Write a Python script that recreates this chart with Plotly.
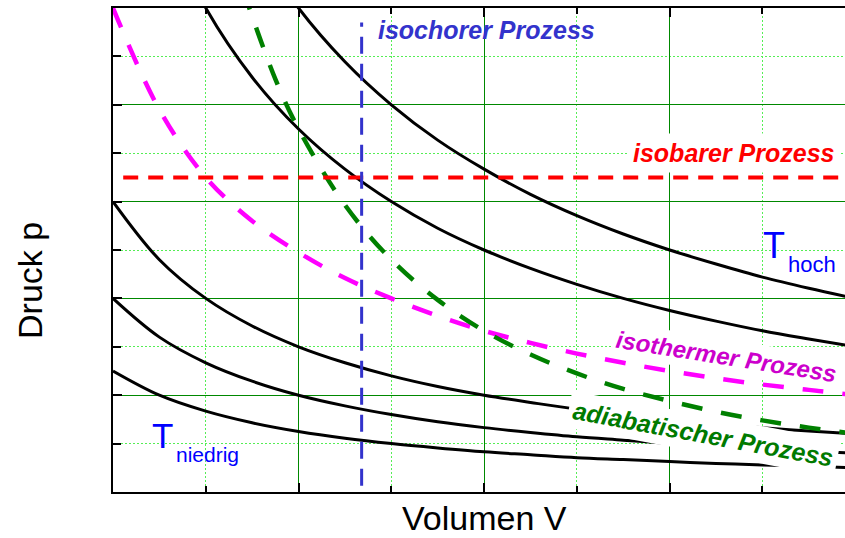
import plotly.graph_objects as go

# ---- data ----
V_iso = [0, 0.5, 1, 1.5, 2, 2.5, 3, 3.5, 4, 4.5, 5, 5.5, 6, 6.5, 7, 7.5, 8]
p_T1 = [20, 16, 13.33, 11.43, 10, 8.89, 8, 7.27, 6.67, 6.15, 5.71, 5.33, 5, 4.71, 4.44, 4.21, 4.0]
p_T2 = [15, 12, 10, 8.57, 7.5, 6.67, 6, 5.45, 5, 4.62, 4.29, 4, 3.75, 3.53, 3.33, 3.16, 3.0]
p_T3 = [6, 4.8, 4, 3.43, 3, 2.67, 2.4, 2.18, 2, 1.85, 1.71, 1.6, 1.5, 1.41, 1.33, 1.26, 1.2]
p_T4 = [4, 3.2, 2.67, 2.29, 2, 1.78, 1.6, 1.45, 1.33, 1.23, 1.14, 1.07, 1.0, 0.94, 0.89, 0.84, 0.8]
p_T5 = [2.5, 2, 1.67, 1.43, 1.25, 1.11, 1, 0.91, 0.83, 0.77, 0.71, 0.67, 0.63, 0.59, 0.56, 0.53, 0.5]

p_isotherm = [10, 7.9, 6.5, 5.6, 4.95, 4.42, 4.0, 3.64, 3.33, 3.08, 2.86, 2.67, 2.5, 2.35, 2.22, 2.11, 2.0]

V_adiab = [1.4, 1.75, 2.0, 2.5, 3.0, 3.5, 4.0, 4.5, 5.0, 5.5, 6.0, 6.5, 7.0, 7.5, 8.0]
p_adiab = [10.38, 8.53, 7.50, 5.93, 4.80, 3.97, 3.33, 2.84, 2.45, 2.13, 1.88, 1.66, 1.48, 1.33, 1.20]

V_isochor = [2.68, 2.68]
p_isochor = [0.13, 9.70]

V_isobar = [0.11, 8.0]
p_isobar = [6.5, 6.5]

labels = {
    "isochor": "isochorer Prozess",
    "isobar": "isobarer Prozess",
    "isotherm": "isothermer Prozess",
    "adiabat": "adiabatischer Prozess",
}
x_title = "Volumen V"
y_title = "Druck p"

FONT = "Liberation Sans, Arial, sans-serif"

fig = go.Figure()

for p in [p_T1, p_T2, p_T3, p_T4, p_T5]:
    fig.add_trace(go.Scatter(x=V_iso, y=p, mode="lines", line=dict(color="black", width=3, shape="spline"),
                             showlegend=False, hoverinfo="skip"))

fig.add_trace(go.Scatter(x=V_iso, y=p_isotherm, mode="lines",
                         line=dict(color="#FF00FF", width=4.5, dash="21px,19px", shape="spline"),
                         showlegend=False, hoverinfo="skip"))
fig.add_trace(go.Scatter(x=V_adiab, y=p_adiab, mode="lines",
                         line=dict(color="#008000", width=4.5, dash="21px,19px", shape="spline"),
                         showlegend=False, hoverinfo="skip"))
fig.add_trace(go.Scatter(x=V_isobar, y=p_isobar, mode="lines",
                         line=dict(color="#FF0000", width=4, dash="15px,10px"),
                         showlegend=False, hoverinfo="skip"))
fig.add_trace(go.Scatter(x=V_isochor, y=p_isochor, mode="lines",
                         line=dict(color="#3333CC", width=3, dash="17px,10px"),
                         showlegend=False, hoverinfo="skip"))

bold_it = dict(family=FONT, size=25, weight="bold", style="italic")

ann = [
    dict(x=4.025, y=9.555, text=labels["isochor"], font=dict(**bold_it, color="#3333CC"),
         showarrow=False),
    dict(x=6.69, y=7.0, text=labels["isobar"], font=dict(**bold_it, color="#FF0000"),
         showarrow=False, bgcolor="white", borderpad=5),
    dict(x=6.61, y=2.80, text=labels["isotherm"],
         font=dict(family=FONT, size=24, weight="bold", style="italic", color="#CC00CC"),
         showarrow=False, bgcolor="white", borderpad=3, textangle=9),
    dict(x=6.36, y=1.19, text=labels["adiabat"], font=dict(**bold_it, color="#007A00"),
         showarrow=False, bgcolor="white", borderpad=4, textangle=10.5),
    dict(x=7.127, y=5.10, text="T", font=dict(family=FONT, size=36, color="#0000FF"), showarrow=False),
    dict(x=7.256, y=4.71, text="hoch", font=dict(family=FONT, size=22, color="#0000FF"),
         showarrow=False, xanchor="left"),
    dict(x=0.534, y=1.175, text="T", font=dict(family=FONT, size=35, color="#0000FF"), showarrow=False),
    dict(x=0.658, y=0.773, text="niedrig", font=dict(family=FONT, size=21, color="#0000FF"),
         showarrow=False, xanchor="left"),
    dict(xref="paper", yref="paper", x=0.5075, y=-0.0537, text=x_title,
         font=dict(family=FONT, size=34, color="black"), showarrow=False,
         xanchor="center", yanchor="middle"),
    dict(xref="paper", yref="paper", x=-0.1134, y=0.438, text=y_title, textangle=-90,
         font=dict(family=FONT, size=34, color="black"), showarrow=False,
         xanchor="center", yanchor="middle"),
]
for a in ann:
    a.setdefault("xref", "x")
    a.setdefault("yref", "y")
fig.update_layout(annotations=ann)

fig.update_layout(
    width=845, height=538,
    margin=dict(l=113, r=0, t=8, b=46),
    paper_bgcolor="white", plot_bgcolor="white",
    showlegend=False, hovermode=False,
)
fig.update_xaxes(
    range=[0, 7.89], dtick=2, tick0=0, showticklabels=False,
    ticks="inside", ticklen=9, tickwidth=2, tickcolor="black",
    showline=True, linecolor="black", linewidth=2, mirror="ticks",
    showgrid=True, gridcolor="#008800", gridwidth=1, zeroline=False,
    minor=dict(dtick=1, tick0=0, ticks="inside", ticklen=6, tickwidth=2, tickcolor="black",
               showgrid=True, gridcolor="#55EE55", griddash="2px,2px", gridwidth=1),
)
fig.update_yaxes(
    range=[0, 10], dtick=2, tick0=0, showticklabels=False,
    ticks="inside", ticklen=9, tickwidth=2, tickcolor="black",
    showline=True, linecolor="black", linewidth=2, mirror=False,
    showgrid=True, gridcolor="#008800", gridwidth=1, zeroline=False,
    minor=dict(dtick=1, tick0=0, ticks="inside", ticklen=8, tickwidth=2, tickcolor="black",
               showgrid=True, gridcolor="#55EE55", griddash="2px,2px", gridwidth=1),
)

fig.write_html("out.html", config={"displayModeBar": False},
               post_script="document.body.style.margin='0';document.body.style.overflow='hidden';")
